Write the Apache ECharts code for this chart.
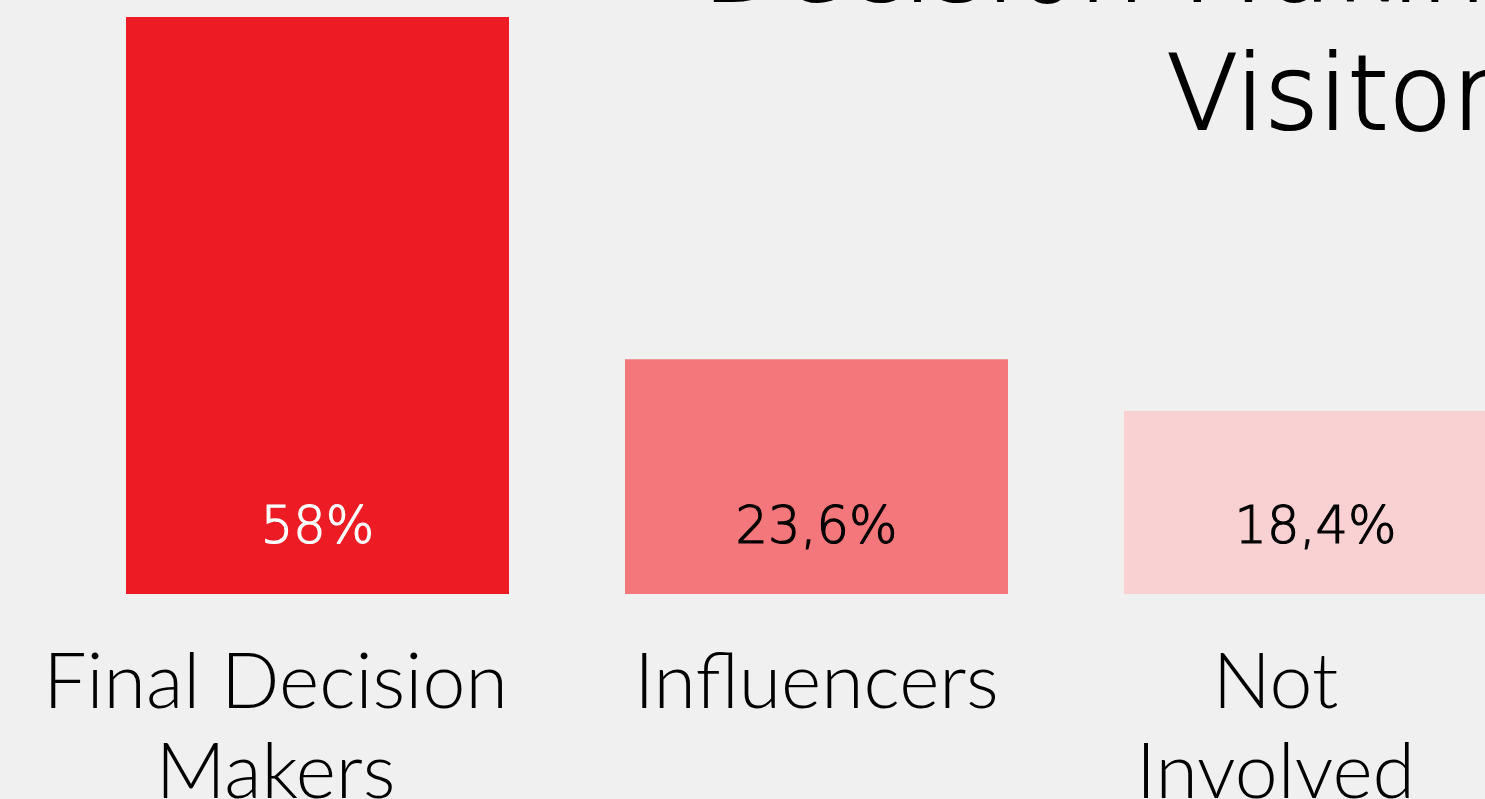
<!DOCTYPE html>
<html>
<head>
<meta charset="utf-8">
<script src="https://cdn.jsdelivr.net/npm/echarts@6/dist/echarts.min.js"></script>
<style>
html,body{margin:0;padding:0;background:#f0f0f0;}
#chart{width:1485px;height:799px;}
</style>
</head>
<body>
<div id="chart"></div>
<script>
const categories = ['Final Decision\nMakers', 'Influencers', 'Not\nInvolved'];
const values = [58, 23.6, 18.4];
const valueLabels = ['58%', '23,6%', '18,4%'];
const titleText = 'Decision Making\nVisitors';

const barColors = ['#ED1C24', '#F4777C', '#F9D1D2'];
const labelColors = ['#ffffff', '#000000', '#000000'];
const catPadding = [[0, 84, 0, 0], [0, 0, 0, 0], [0, 80, 0, 0]];

const chart = echarts.init(document.getElementById('chart'));
chart.setOption({
  backgroundColor: '#f0f0f0',
  animation: false,
  title: {
    text: titleText,
    left: 1544,
    top: -95,
    textAlign: 'right',
    textStyle: {
      fontFamily: 'DejaVu Sans',
      fontWeight: 200,
      fontSize: 104,
      lineHeight: 128,
      color: '#000',
      textBorderColor: '#000',
      textBorderWidth: 2.2
    }
  },
  grid: { left: 68, right: -80, top: 17, bottom: 205, containLabel: false, outerBoundsMode: 'none' },
  xAxis: {
    type: 'category',
    data: categories.map((c, i) => ({ value: c, textStyle: { padding: catPadding[i] } })),
    axisLine: { show: false },
    axisTick: { show: false },
    axisLabel: {
      interval: 0,
      margin: 44,
      fontFamily: 'Lato',
      fontWeight: 300,
      fontSize: 77,
      lineHeight: 90,
      color: '#000'
    }
  },
  yAxis: {
    type: 'value',
    min: 0,
    max: 58,
    show: false,
    splitLine: { show: false }
  },
  series: [{
    type: 'bar',
    barWidth: 383,
    data: values.map((v, i) => ({
      value: v,
      itemStyle: { color: barColors[i] },
      label: { color: labelColors[i], textBorderColor: labelColors[i], formatter: valueLabels[i] }
    })),
    label: {
      show: true,
      position: 'insideBottom',
      distance: 39,
      fontFamily: 'DejaVu Sans',
      fontWeight: 200,
      fontSize: 51,
      textBorderWidth: 1.2
    }
  }]
});
</script>
</body>
</html>
